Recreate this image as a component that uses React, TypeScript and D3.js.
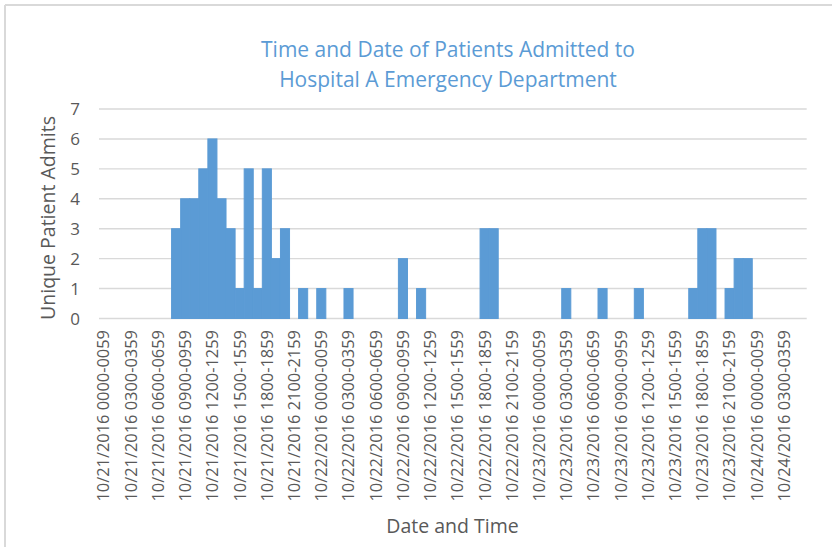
import React from "react";
import * as d3 from "d3";

const days: string[] = ["10/21/2016", "10/22/2016", "10/23/2016", "10/24/2016"];
const hours: string[] = [
  "0000-0059", "0100-0159", "0200-0259", "0300-0359", "0400-0459", "0500-0559",
  "0600-0659", "0700-0759", "0800-0859", "0900-0959", "1000-1059", "1100-1159",
  "1200-1259", "1300-1359", "1400-1459", "1500-1559", "1600-1659", "1700-1759",
  "1800-1859", "1900-1959", "2000-2059", "2100-2159", "2200-2259", "2300-2359",
];
const categoryCount = 78;
const categories: string[] = d3.range(categoryCount).map(
  (i) => `${days[Math.floor(i / 24)]} ${hours[i % 24]}`
);

// Unique patient admits per hour
const admits: number[] = [
  0, 0, 0, 0, 0, 0, 0, 0, 3, 4, 4, 5, 6, 4, 3, 1, 5, 1, 5, 2, 3, 0, 1, 0,
  1, 0, 0, 1, 0, 0, 0, 0, 0, 2, 0, 1, 0, 0, 0, 0, 0, 0, 3, 3, 0, 0, 0, 0,
  0, 0, 0, 1, 0, 0, 0, 1, 0, 0, 0, 1, 0, 0, 0, 0, 0, 1, 3, 3, 0, 1, 2, 2,
  0, 0, 0, 0, 0, 0,
];

const yTicks: number[] = [0, 1, 2, 3, 4, 5, 6, 7];
const titleLines: string[] = [
  "Time and Date of Patients Admitted to",
  "Hospital A Emergency Department",
];
const xTitle = "Date and Time";
const yTitle = "Unique Patient Admits";

const FONT = "'Open Sans', 'Liberation Sans', sans-serif";
const TEXT = "#595959";
const GRID = "#d9d9d9";
const BAR = "#5b9bd5";

export default function App() {
  const W = 832;
  const H = 547;
  const x = d3
    .scaleBand<number>()
    .domain(d3.range(categoryCount))
    .range([99, 806.7])
    .padding(0);
  const y = d3.scaleLinear().domain([0, 7]).range([318.5, 109]);

  return (
    <svg
      width={W}
      height={H}
      style={{ position: "absolute", left: 0, top: 0, background: "#fff" }}
      fontFamily={FONT}
    >
      <rect x={0} y={0} width={W} height={H} fill="#fff" />
      <line x1={5} y1={5} x2={W} y2={5} stroke={GRID} strokeWidth={2} />
      <line x1={5} y1={5} x2={5} y2={H} stroke={GRID} strokeWidth={2} />

      {titleLines.map((t, i) => (
        <text
          key={t}
          x={448}
          y={57 + i * 30}
          textAnchor="middle"
          fill={BAR}
          fontSize={21}
        >
          {t}
        </text>
      ))}

      {yTicks.map((v) => (
        <line
          key={"g" + v}
          x1={99}
          x2={806.7}
          y1={y(v)}
          y2={y(v)}
          stroke={GRID}
          strokeWidth={1.4}
        />
      ))}

      {admits.map((v, i) =>
        v > 0 ? (
          <rect
            key={"b" + i}
            x={x(i)!}
            y={y(v)}
            width={x.bandwidth()}
            height={y(0) - y(v)}
            fill={BAR}
            stroke={BAR}
            strokeWidth={1}
          />
        ) : null
      )}

      {yTicks.map((v) => (
        <text
          key={"yt" + v}
          x={80}
          y={y(v)}
          dy="0.36em"
          textAnchor="end"
          fill={TEXT}
          fontSize={17}
        >
          {v}
        </text>
      ))}

      {categories.map((c, i) =>
        i % 3 === 0 ? (
          <text
            key={"xt" + i}
            transform={`translate(${x(i)! + x.bandwidth() / 2},330) rotate(-90)`}
            dy="0.36em"
            textAnchor="end"
            fill={TEXT}
            fontSize={16.4}
          >
            {c}
          </text>
        ) : null
      )}

      <text
        transform="translate(47.5,218) rotate(-90)"
        dy="0.36em"
        textAnchor="middle"
        fill={TEXT}
        fontSize={19.5}
      >
        {yTitle}
      </text>
      <text x={452.5} y={533} textAnchor="middle" fill={TEXT} fontSize={19.5}>
        {xTitle}
      </text>
    </svg>
  );
}
